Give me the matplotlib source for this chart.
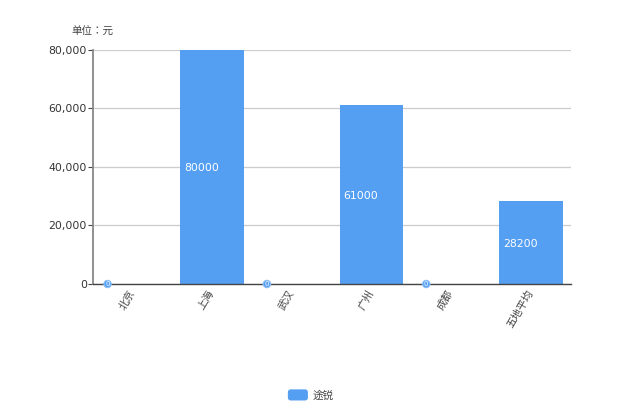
import matplotlib
matplotlib.use('Agg')
import matplotlib.pyplot as plt
from matplotlib.patches import FancyBboxPatch, Patch
from matplotlib.legend_handler import HandlerPatch
from matplotlib.ticker import FuncFormatter
from matplotlib.transforms import ScaledTranslation

categories = ['北京', '上海', '武汉', '广州', '成都', '五地平均']
series_name = '途锐'
values = [0, 80000, 0, 61000, 0, 28200]
y_ticks = [0, 20000, 40000, 60000, 80000]
unit_label = '单位：元'

CJK = ['Noto Sans CJK SC', 'DejaVu Sans']
CJK_TC = ['Noto Sans CJK TC', 'DejaVu Sans']
BLUE = '#559ff3'
W, H = 620, 413
L, R, T, B = 92.6, 570.6, 49.6, 284

fig = plt.figure(figsize=(W / 100, H / 100), dpi=100)
ax = fig.add_axes([L / W, 1 - B / H, (R - L) / W, (B - T) / H])
ax.set_xlim(-0.5, len(categories) - 0.5)
ax.set_ylim(0, max(y_ticks))

x = list(range(len(categories)))
bars = ax.bar(x, values, width=0.8, color=BLUE, edgecolor='none', zorder=2)

for rect, v in zip(bars, values):
    left = rect.get_x()
    if v == 0:
        ax.annotate(str(v), (left, 0), xytext=(7, 0), textcoords='offset pixels',
                    ha='center', va='center', fontsize=5, color='white', zorder=5,
                    annotation_clip=False,
                    bbox=dict(boxstyle='circle,pad=0.1', fc=BLUE, ec='#8dbff8', lw=0.8))
    else:
        ax.annotate(str(v), (left, v / 2), xytext=(4, -1), textcoords='offset pixels',
                    ha='left', va='center', fontsize=7.8, color='white', zorder=5)

ax.set_yticks(y_ticks)
ax.yaxis.set_major_formatter(FuncFormatter(lambda v, _: f'{int(v):,}'))
ax.tick_params(axis='y', length=3.6, width=0.8, color='#444444', labelsize=7.8,
               labelcolor='#333333', pad=0.6)
ax.grid(axis='y', color='#cccccc', lw=0.9, zorder=1)
ax.set_axisbelow(True)

ax.set_xticks(x)
ax.set_xticklabels(categories, rotation=60, ha='right', va='top',
                   rotation_mode='anchor', family=CJK, fontsize=7.6, color='#444444')
ax.tick_params(axis='x', length=0, pad=3)
shift = ScaledTranslation(-4.5 / 100, 0, fig.dpi_scale_trans)
for lab in ax.get_xticklabels():
    lab.set_transform(lab.get_transform() + shift)

for s in ('top', 'right'):
    ax.spines[s].set_visible(False)
ax.spines['left'].set_color('#888888')
ax.spines['left'].set_linewidth(1.3)
ax.spines['bottom'].set_color('#444444')
ax.spines['bottom'].set_linewidth(1)
ax.spines['bottom'].set_zorder(4)

fig.text(71.5 / W, 1 - 32 / H, unit_label, family=CJK_TC, fontsize=7.6, color='#444444',
         ha='left', va='center')


class RoundHandler(HandlerPatch):
    def create_artists(self, legend, orig, xd, yd, w, h, fs, trans):
        hh = 8.0
        p = FancyBboxPatch((-xd, -yd + (h - hh) / 2), w, hh,
                           boxstyle='round,pad=0,rounding_size=2',
                           fc=orig.get_facecolor(), ec='none', lw=0,
                           transform=trans)
        return [p]


handle = Patch(color=BLUE, label=series_name)
fig.legend(handles=[handle], labels=[series_name], handler_map={Patch: RoundHandler()},
           loc='center', bbox_to_anchor=(310.5 / W, 1 - 395 / H), frameon=False,
           prop={'family': CJK, 'size': 7.6}, labelcolor='#444444',
           handlelength=1.9, handleheight=1.2, handletextpad=0.4)

fig.savefig('out.png', dpi=100, facecolor='white')
